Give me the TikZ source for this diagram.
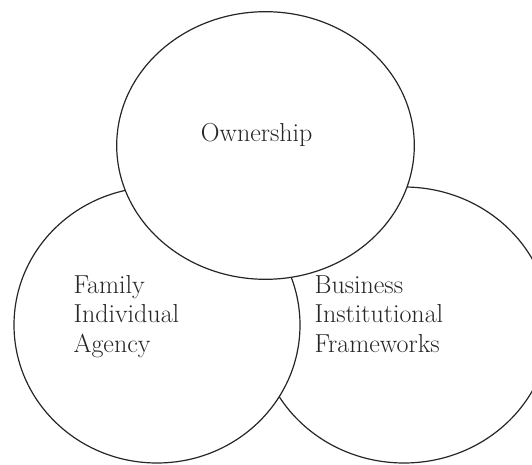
\documentclass[tikz,border=0pt]{standalone}
\usetikzlibrary{shapes.geometric}
\tikzset{
  setcircle/.style={draw=black!85, line width=1.2pt, fill=white, ellipse, inner sep=0pt},
  setlabel/.style={align=left, inner sep=0pt, font=\fontsize{26}{29.5}\selectfont, text=black!85}
}
\begin{document}
\begin{tikzpicture}[x=1pt,y=-1pt]
\useasboundingbox (0,0) rectangle (532,465);
\clip (0,0) rectangle (532,465);
\node[setcircle, minimum width=292pt, minimum height=276pt] (business) at (404,325) {};
\node[setcircle, minimum width=286pt, minimum height=276pt] (family) at (157,325) {};
\node[setcircle, minimum width=297.6pt, minimum height=267.6pt] (ownership) at (265.5,145.5) {};
\node[setlabel, anchor=base] (own) at (256.7,141.7) {Ownership};
\node[setlabel, anchor=base west] (fam) at (73.3,352) {Family\\Individual\\Agency};
\node[setlabel, anchor=base west] (bus) at (314.3,352) {Business\\Institutional\\Frameworks};
\end{tikzpicture}
\end{document}
